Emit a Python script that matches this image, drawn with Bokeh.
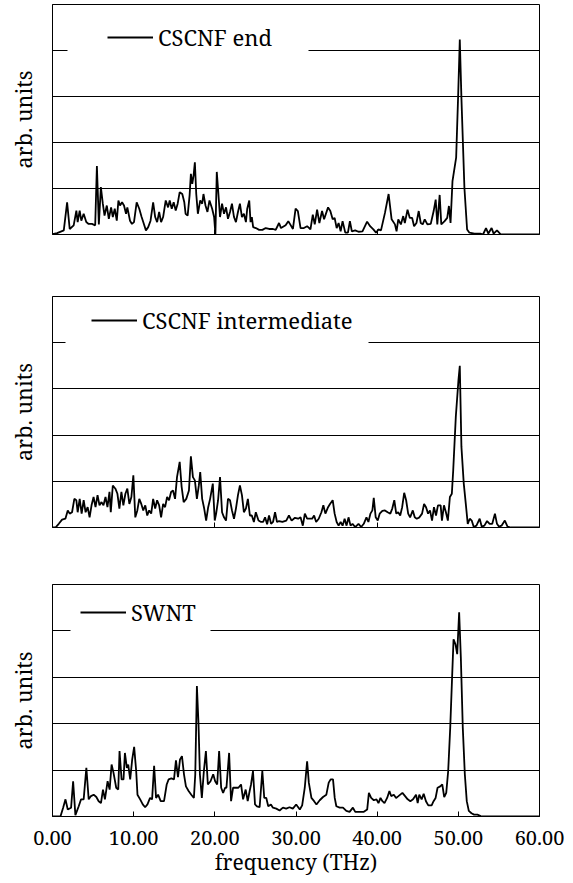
from bokeh.plotting import figure
from bokeh.layouts import column
from bokeh.models import (FixedTicker, NumeralTickFormatter, Legend, LegendItem,
                          BoxAnnotation, Range1d)
from bokeh.embed import file_html
from bokeh.resources import INLINE

# ---------------- data ----------------
series_names = ["CSCNF end", "CSCNF intermediate", "SWNT"]
x_ticks = [0, 10, 20, 30, 40, 50, 60]
upper_ticks = [20, 40]

end_freq = [0.0, 0.57, 1.39, 1.80, 2.12, 2.61, 2.94, 3.10, 3.35, 3.55, 3.84, 4.16, 4.45, 4.86, 5.26,
            5.47, 5.71, 5.96, 6.20, 6.41, 6.69, 6.94, 7.22, 7.43, 7.67, 7.92, 8.12, 8.32, 8.57, 8.81,
            9.06, 9.22, 9.55, 9.79, 10.04, 10.37, 10.69, 10.98, 11.18, 11.51, 11.79, 12.08, 12.40,
            12.65, 12.89, 13.14, 13.38, 13.63, 13.95, 14.24, 14.44, 14.69, 14.93, 15.18, 15.42,
            15.67, 15.99, 16.24, 16.40, 16.65, 16.89, 17.05, 17.22, 17.38, 17.54, 17.71, 17.91,
            18.20, 18.44, 18.60, 18.85, 19.09, 19.34, 19.67, 19.91, 20.07, 20.24, 20.44, 20.64,
            20.89, 21.13, 21.38, 21.62, 21.87, 22.11, 22.36, 22.60, 22.85, 23.09, 23.34, 23.58,
            23.83, 23.99, 24.24, 24.40, 24.56, 24.72, 25.05, 25.46, 25.86, 26.27, 26.68, 27.17,
            27.50, 27.91, 28.15, 28.72, 29.05, 29.29, 29.62, 29.95, 30.23, 30.56, 30.97, 31.37,
            31.78, 32.07, 32.31, 32.60, 32.88, 33.21, 33.46, 33.95, 34.23, 34.52, 34.76, 35.01,
            35.25, 35.50, 35.74, 36.07, 36.40, 36.64, 36.88, 37.29, 37.70, 38.19, 38.76, 39.13,
            39.53, 39.86, 40.15, 40.47, 40.96, 41.41, 41.78, 42.19, 42.39, 42.60, 42.92, 43.21,
            43.41, 43.74, 44.02, 44.31, 44.55, 44.84, 45.12, 45.37, 45.61, 45.86, 46.19, 46.60,
            46.96, 47.21, 47.41, 47.70, 47.90, 48.31, 48.63, 48.84, 49.04, 49.28, 49.73, 49.98,
            50.18, 50.38, 50.75, 51.08, 51.37, 51.98, 52.72, 53.04, 53.41, 53.70, 54.10, 54.35,
            54.76, 55.24, 57.69, 60.0]
end_amp = [0.01, 0.03, 0.09, 0.70, 0.12, 0.20, 0.52, 0.27, 0.52, 0.30, 0.45, 0.27, 0.23, 0.23, 0.20,
           1.49, 0.22, 1.03, 0.67, 0.41, 0.63, 0.34, 0.59, 0.38, 0.56, 0.30, 0.74, 0.63, 0.70, 0.63,
           0.45, 0.59, 0.30, 0.23, 0.27, 0.70, 0.56, 0.38, 0.27, 0.09, 0.16, 0.30, 0.70,
           0.38, 0.27, 0.49, 0.27, 0.38, 0.74, 0.59, 0.74, 0.56, 0.70, 0.52, 0.67,
           0.92, 0.88, 0.70, 0.45, 0.41, 0.85, 1.32, 1.10, 1.28, 1.57, 0.88, 0.45,
           0.74, 0.67, 0.88, 0.63, 0.49, 0.74, 0.56, 0.38, 0.01, 1.36, 0.88, 0.38,
           0.67, 0.45, 0.59, 0.34, 0.49, 0.67, 0.38, 0.27, 0.49, 0.67, 0.38, 0.45,
           0.27, 0.56, 0.74, 0.27, 0.38, 0.16, 0.14, 0.10, 0.10, 0.14, 0.12, 0.12,
           0.10, 0.25, 0.14, 0.20, 0.29, 0.22, 0.12, 0.56, 0.51, 0.14, 0.14, 0.18,
           0.11, 0.43, 0.22, 0.54, 0.25, 0.51, 0.33, 0.59, 0.51, 0.33, 0.36, 0.14,
           0.25, 0.07, 0.29, 0.04, 0.04, 0.29, 0.07, 0.09, 0.06, 0.07, 0.28, 0.18,
           0.11, 0.04, 0.11, 0.09, 0.47, 0.88, 0.33, 0.22, 0.07, 0.33, 0.22, 0.40,
           0.25, 0.54, 0.36, 0.36, 0.18, 0.25, 0.51, 0.25, 0.22, 0.33, 0.22, 0.23,
           0.51, 0.76, 0.22, 0.86, 0.22, 0.29, 0.36, 0.62, 0.25, 1.16, 1.67, 3.04,
           4.24, 2.97, 1.01, 0.11, 0.04, 0.02, 0.02, 0.0, 0.14, 0.02, 0.14, 0.02,
           0.09, 0.0, 0.0, 0.0]

mid_freq = [0.0, 0.37, 0.77, 1.18, 1.59, 1.88, 2.12, 2.41, 2.69, 2.94, 3.10, 3.35, 3.59, 3.84, 4.08,
            4.33, 4.57, 4.81, 5.06, 5.30, 5.55, 5.79, 6.04, 6.28, 6.53, 6.77, 7.02, 7.18, 7.43,
            7.75, 8.00, 8.24, 8.49, 8.73, 8.98, 9.22, 9.47, 9.72, 9.96, 10.20, 10.45, 10.69,
            10.94, 11.18, 11.43, 11.67, 11.91, 12.16, 12.40, 12.65, 12.89, 13.14, 13.38, 13.63,
            13.87, 14.12, 14.36, 14.61, 14.85, 15.10, 15.34, 15.67, 15.91, 16.16, 16.48, 16.81,
            17.05, 17.30, 17.54, 17.79, 18.03, 18.20, 18.44, 18.69, 18.93, 19.18, 19.42, 19.75,
            19.99, 20.16, 20.40, 20.64, 20.89, 21.13, 21.38, 21.62, 21.87, 22.11, 22.36, 22.60,
            22.85, 23.09, 23.34, 23.58, 23.83, 24.07, 24.32, 24.56, 24.81, 25.05, 25.38, 25.70,
            25.95, 26.19, 26.44, 26.68, 26.93, 27.17, 27.42, 27.66, 27.91, 28.32, 28.80, 29.13,
            29.46, 29.87, 30.27, 30.56, 30.84, 31.09, 31.37, 31.66, 31.99, 32.23, 32.48, 32.80,
            33.13, 33.37, 33.62, 33.95, 34.19, 34.52, 34.76, 35.01, 35.25, 35.50, 35.74, 35.99,
            36.23, 36.47, 36.72, 36.96, 37.29, 37.70, 38.03, 38.35, 38.68, 38.92, 39.17, 39.41,
            39.58, 39.82, 40.07, 40.31, 40.64, 40.96, 41.29, 41.62, 41.86, 42.11, 42.35, 42.59,
            42.84, 43.08, 43.33, 43.57, 43.82, 44.06, 44.39, 44.63, 44.88, 45.21, 45.53, 45.78,
            46.02, 46.27, 46.51, 46.76, 47.00, 47.25, 47.49, 47.82, 47.98, 48.23, 48.47, 48.71,
            48.96, 49.20, 49.37, 49.69, 50.02, 50.18, 50.38, 50.67, 50.92, 51.16, 51.41, 51.65,
            51.90, 52.23, 52.63, 52.88, 53.21, 53.54, 53.86, 54.18, 54.51, 54.76, 55.00, 55.32,
            55.73, 56.06, 56.47, 60.0]
mid_amp = [0.0, 0.0, 0.08, 0.17, 0.19, 0.37, 0.30, 0.33, 0.62, 0.59, 0.33, 0.62, 0.30, 0.59, 0.33,
           0.44, 0.22, 0.48, 0.66, 0.44, 0.70, 0.48, 0.55, 0.48, 0.66, 0.44, 0.77, 0.33, 0.91,
           0.84, 0.73, 0.41, 0.77, 0.48, 0.73, 0.84, 0.51, 0.66, 1.13, 0.22, 0.37, 0.62,
           0.51, 0.37, 0.48, 0.26, 0.37, 0.30, 0.62, 0.41, 0.59, 0.48, 0.22, 0.51,
           0.44, 0.66, 0.59, 0.77, 0.80, 0.62, 1.09, 1.42, 0.88, 0.55, 0.62, 0.80,
           1.54, 1.09, 1.02, 0.62, 0.91, 1.20, 0.62, 0.41, 0.15, 0.44, 0.62, 0.95,
           0.15, 0.30, 0.59, 1.09, 0.33, 0.22, 0.15, 0.62, 0.59, 0.37, 0.19, 0.41,
           0.70, 0.91, 0.70, 0.33, 0.41, 0.62, 0.26, 0.26, 0.12, 0.33, 0.15, 0.12,
           0.12, 0.22, 0.07, 0.26, 0.08, 0.12, 0.33, 0.12, 0.14, 0.12, 0.15, 0.26,
           0.15, 0.21, 0.19, 0.22, 0.04, 0.30, 0.19, 0.19, 0.19, 0.26, 0.12, 0.19,
           0.33, 0.48, 0.30, 0.44, 0.51, 0.59, 0.30, 0.12, 0.04, 0.12, 0.04, 0.19,
           0.04, 0.22, 0.04, 0.08, 0.01, 0.08, 0.01, 0.08, 0.22, 0.12, 0.30, 0.37,
           0.64, 0.22, 0.15, 0.30, 0.36, 0.37, 0.33, 0.30, 0.41, 0.59, 0.30, 0.33,
           0.26, 0.44, 0.75, 0.59, 0.30, 0.22, 0.37, 0.22, 0.19, 0.22, 0.30, 0.51,
           0.44, 0.30, 0.37, 0.15, 0.44, 0.26, 0.48, 0.48, 0.15, 0.48, 0.33, 0.15,
           0.66, 0.73, 1.24, 2.40, 3.20, 3.50, 1.75, 0.95, 0.51, 0.08, 0.19, 0.15,
           0.01, 0.04, 0.19, 0.02, 0.04, 0.14, 0.08, 0.08, 0.30, 0.08, 0.02, 0.04,
           0.15, 0.02, 0.0, 0.0]

swnt_freq = [0.0, 0.98, 1.31, 1.60, 1.88, 2.29, 2.54, 2.82, 3.23, 3.52, 3.84, 4.17, 4.46, 4.74, 5.07,
             5.40, 5.69, 5.97, 6.22, 6.46, 6.79, 7.04, 7.28, 7.52, 7.85, 8.10, 8.26, 8.51, 8.75,
             8.92, 9.16, 9.33, 9.57, 9.82, 10.06, 10.31, 10.47, 10.80, 11.12, 11.41, 11.70, 12.02,
             12.27, 12.52, 12.76, 13.01, 13.33, 13.74, 14.07, 14.31, 14.64, 14.97, 15.21, 15.46,
             15.71, 15.95, 16.20, 16.44, 16.77, 17.10, 17.42, 17.59, 17.79, 17.99, 18.16, 18.40,
             18.65, 18.90, 19.14, 19.47, 19.80, 20.04, 20.29, 20.53, 20.78, 21.02, 21.27, 21.43,
             21.76, 22.00, 22.25, 22.49, 22.90, 23.23, 23.48, 23.80, 24.05, 24.29, 24.46, 24.70,
             24.95, 25.19, 25.52, 25.85, 26.09, 26.34, 26.58, 26.91, 27.16, 27.57, 27.98, 28.39,
             28.79, 29.20, 29.61, 30.02, 30.18, 30.47, 30.76, 31.08, 31.37, 31.58, 31.90, 32.23,
             32.52, 32.92, 33.33, 33.74, 34.03, 34.27, 34.56, 34.77, 34.97, 35.38, 35.79, 36.20,
             36.60, 37.01, 37.30, 37.62, 38.04, 38.36, 38.77, 38.98, 39.26, 39.59, 39.92, 40.16,
             40.41, 40.65, 40.90, 41.23, 41.51, 41.72, 42.05, 42.33, 42.62, 43.11, 43.44, 43.76,
             44.09, 44.42, 44.79, 44.99, 45.19, 45.48, 45.73, 46.01, 46.30, 46.71, 46.95, 47.20,
             47.44, 47.77, 48.02, 48.26, 48.51, 48.75, 49.00, 49.20, 49.41, 49.65, 49.86, 50.10,
             50.31, 50.55, 50.80, 51.04, 51.29, 51.62, 51.94, 52.35, 52.76, 53.17, 60.0]
swnt_amp = [0.0, 0.0, 0.19, 0.37, 0.15, 0.19, 0.76, 0.03, 0.22, 0.37, 0.37, 1.05, 0.37, 0.44, 0.47,
            0.42, 0.33, 0.29, 0.58, 0.37, 0.76, 0.58, 1.12, 0.94, 0.62, 0.58, 1.41, 0.80, 0.80,
            1.37, 1.05, 1.12, 0.80, 1.23, 1.50, 0.98, 0.47, 0.37, 0.26, 0.20, 0.26, 0.40,
            0.37, 1.09, 0.40, 0.47, 0.33, 0.33, 0.69, 0.80, 0.82, 0.80, 1.21, 0.85,
            1.23, 1.30, 0.91, 0.65, 0.55, 0.47, 0.40, 0.91, 2.81, 1.99, 0.91, 0.40,
            0.98, 1.41, 0.69, 0.76, 0.91, 0.76, 0.69, 1.41, 0.62, 0.51, 0.62, 0.62,
            1.37, 0.33, 0.62, 0.62, 0.62, 0.69, 0.37, 0.58, 0.33, 0.55, 0.69, 0.98,
            0.26, 0.22, 0.20, 0.98, 0.40, 0.40, 0.22, 0.26, 0.19, 0.17, 0.13, 0.19,
            0.17, 0.20, 0.17, 0.26, 0.22, 0.15, 0.24, 0.62, 1.19, 0.73, 0.40, 0.33,
            0.26, 0.35, 0.42, 0.47, 0.73, 0.80, 0.80, 0.40, 0.22, 0.19, 0.19, 0.12,
            0.10, 0.19, 0.10, 0.10, 0.10, 0.10, 0.15, 0.51, 0.40, 0.35, 0.37, 0.29,
            0.40, 0.33, 0.29, 0.40, 0.55, 0.44, 0.47, 0.40, 0.44, 0.51, 0.44, 0.37,
            0.33, 0.37, 0.47, 0.29, 0.47, 0.37, 0.49, 0.33, 0.24, 0.24, 0.33, 0.40,
            0.62, 0.65, 0.69, 0.42, 0.51, 0.98, 1.91, 2.85, 3.82, 3.71, 3.50, 4.40,
            3.42, 1.91, 0.91, 0.33, 0.12, 0.07, 0.04, 0.04, 0.01, 0.0, 0.0]

# ---------------- styling ----------------
FONT = "Noto Serif"
W = 565


def make_panel(freq, amp, name, height, top, bottom, left, frame_w, legend_xy, box_lr,
               bottom_axis=False):
    p = figure(width=W, height=height, x_range=Range1d(0, 60), y_range=Range1d(0, 5),
               output_backend="svg", toolbar_location=None,
               min_border_left=left, min_border_right=W - left - frame_w,
               min_border_top=top, min_border_bottom=bottom)
    p.background_fill_color = "white"
    p.border_fill_color = "white"
    p.outline_line_color = "black"
    p.outline_line_width = 1
    p.outline_line_alpha = 1

    p.xgrid.visible = False
    p.ygrid.ticker = FixedTicker(ticks=[1, 2, 3, 4])
    p.ygrid.grid_line_color = "black"
    p.ygrid.grid_line_width = 1

    r = p.line(freq, amp, line_color="black", line_width=1.8)

    ya = p.yaxis[0]
    ya.ticker = FixedTicker(ticks=[])
    ya.major_tick_in = 0
    ya.major_tick_out = 0
    ya.minor_tick_line_color = None
    ya.major_label_standoff = 0
    ya.axis_line_color = "black"
    ya.axis_label = "arb. units"
    ya.axis_label_text_font = FONT
    ya.axis_label_text_font_size = "21.5px"
    ya.axis_label_text_font_style = "normal"
    ya.axis_label_text_color = "black"
    ya.axis_label_standoff = 15

    xa = p.xaxis[0]
    xa.axis_line_color = "black"
    xa.major_tick_in = 5
    xa.major_tick_out = 0
    xa.minor_tick_line_color = None
    xa.major_tick_line_color = "black"
    if bottom_axis:
        xa.ticker = FixedTicker(ticks=x_ticks)
        xa.formatter = NumeralTickFormatter(format="0.00")
        xa.major_label_text_font = FONT
        xa.major_label_text_font_size = "20px"
        xa.major_label_text_color = "black"
        xa.major_label_standoff = 14
        xa.axis_label = "frequency (THz)"
        xa.axis_label_text_font = FONT
        xa.axis_label_text_font_size = "21px"
        xa.axis_label_text_font_style = "normal"
        xa.axis_label_text_color = "black"
        xa.axis_label_standoff = 0
    else:
        xa.ticker = FixedTicker(ticks=upper_ticks)
        xa.major_label_overrides = {t: "" for t in upper_ticks}
        xa.major_label_standoff = 0

    box = BoxAnnotation(left=box_lr[0], right=box_lr[1], bottom=176, top=214,
                        left_units="screen", right_units="screen",
                        top_units="screen", bottom_units="screen",
                        fill_color="white", fill_alpha=1.0, line_color=None)
    p.add_layout(box)

    legend = Legend(items=[LegendItem(label=name, renderers=[r])], location=legend_xy,
                    padding=0, margin=0, glyph_width=46, glyph_height=24, label_height=24,
                    label_standoff=5, background_fill_alpha=0, border_line_color=None,
                    label_text_font=FONT, label_text_font_size="22px",
                    label_text_color="black")
    p.add_layout(legend)
    return p


p1 = make_panel(end_freq, end_amp, series_names[0], height=254, top=4, bottom=20,
                left=52, frame_w=490, legend_xy=(55, 182), box_lr=(15, 256))
p2 = make_panel(mid_freq, mid_amp, series_names[1], height=293, top=42, bottom=20,
                left=52, frame_w=490, legend_xy=(39, 192), box_lr=(13, 316))
p3 = make_panel(swnt_freq, swnt_amp, series_names[2], height=332, top=37, bottom=63,
                left=50, frame_w=489, legend_xy=(28, 189), box_lr=(18, 158), bottom_axis=True)

layout = column(p1, p2, p3, spacing=0)
open("out.html", "w").write(file_html(layout, INLINE))
